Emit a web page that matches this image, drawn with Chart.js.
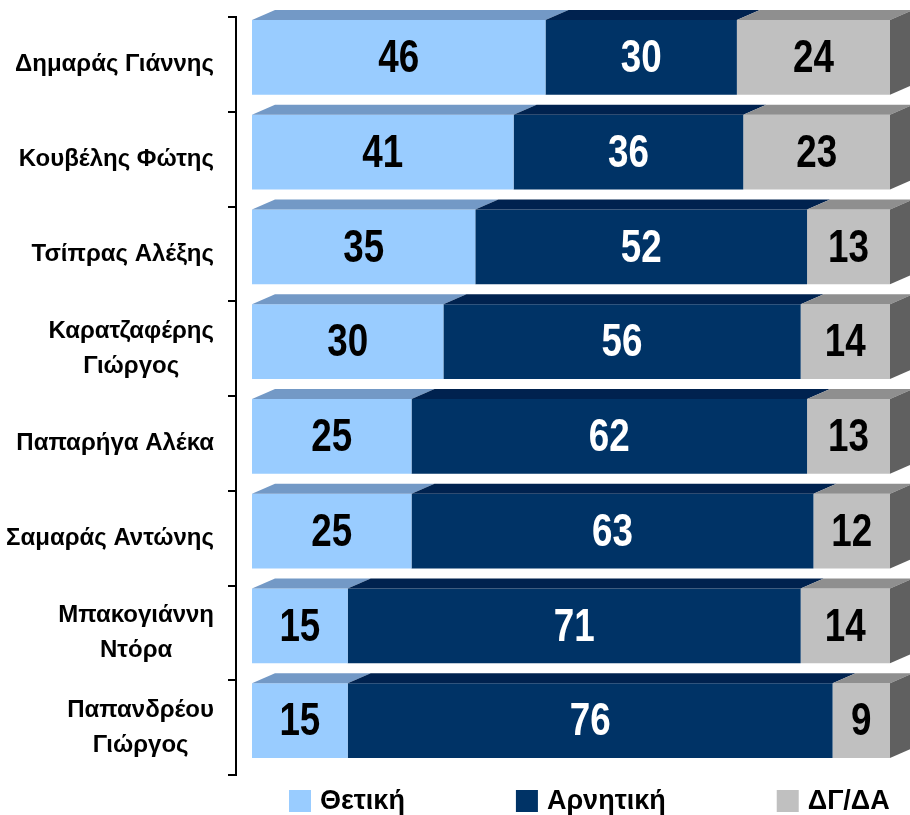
<!DOCTYPE html>
<html>
<head>
<meta charset="utf-8">
<script src="https://cdn.jsdelivr.net/npm/chart.js@4.4.0/dist/chart.umd.min.js"></script>
<style>
  html, body { margin: 0; padding: 0; background: #fff; }
  #wrap { width: 910px; height: 815px; position: relative; }
</style>
</head>
<body>
<div id="wrap"><canvas id="chart"></canvas></div>
<script>
// Poll data (percent)
const politicians = [
  'Δημαράς Γιάννης',
  'Κουβέλης Φώτης',
  'Τσίπρας Αλέξης',
  ['Καρατζαφέρης', 'Γιώργος'],
  'Παπαρήγα Αλέκα',
  'Σαμαράς Αντώνης',
  ['Μπακογιάννη', 'Ντόρα'],
  ['Παπανδρέου', 'Γιώργος']
];
const positive = [46, 41, 35, 30, 25, 25, 15, 15];
const negative = [30, 36, 52, 56, 62, 63, 71, 76];
const noAnswer = [24, 23, 13, 14, 13, 12, 14, 9];
const seriesNames = ['Θετική', 'Αρνητική', 'ΔΓ/ΔΑ'];

const frontColors = ['#99CCFF', '#003366', '#C0C0C0'];
const topColors = ['#7399C6', '#00224F', '#8F8F8F'];
const sideColor = '#606060';
const labelColors = ['#000000', '#FFFFFF', '#000000'];

// 3D depth of the bars
const dx = 23, dy = 10;

const bars3d = {
  id: 'bars3d',
  afterDatasetsDraw(chart) {
    const ctx = chart.ctx;
    const n = chart.data.datasets.length;
    ctx.save();
    chart.data.datasets.forEach((ds, di) => {
      const meta = chart.getDatasetMeta(di);
      meta.data.forEach((bar) => {
        const p = bar.getProps(['x', 'y', 'base', 'height'], true);
        const top = p.y - p.height / 2;
        const bottom = p.y + p.height / 2;
        const x0 = p.base, x1 = p.x;
        ctx.fillStyle = topColors[di];
        ctx.beginPath();
        ctx.moveTo(x0, top);
        ctx.lineTo(x1, top);
        ctx.lineTo(x1 + dx, top - dy);
        ctx.lineTo(x0 + dx, top - dy);
        ctx.closePath();
        ctx.fill();
        if (di === n - 1) {
          ctx.fillStyle = sideColor;
          ctx.beginPath();
          ctx.moveTo(x1, top);
          ctx.lineTo(x1 + dx, top - dy);
          ctx.lineTo(x1 + dx, bottom - dy);
          ctx.lineTo(x1, bottom);
          ctx.closePath();
          ctx.fill();
        }
      });
    });

    // value labels, narrow bold digits
    ctx.font = 'bold 46px "Liberation Sans", Arial, sans-serif';
    ctx.textAlign = 'center';
    ctx.textBaseline = 'middle';
    const squeeze = 0.8;
    chart.data.datasets.forEach((ds, di) => {
      const meta = chart.getDatasetMeta(di);
      meta.data.forEach((bar, i) => {
        const p = bar.getProps(['x', 'y', 'base'], true);
        ctx.fillStyle = labelColors[di];
        ctx.save();
        ctx.translate((p.x + p.base) / 2, p.y + 2);
        ctx.scale(squeeze, 1);
        ctx.fillText(String(ds.data[i]), 0, 0);
        ctx.restore();
      });
    });
    ctx.restore();
  }
};

// left axis line with bracket ticks, and the category names
const axisBracket = {
  id: 'axisBracket',
  afterDraw(chart) {
    const ctx = chart.ctx;
    const ys = chart.scales.y;
    const shift = 7;
    const n = chart.data.labels.length;
    const step = ys.getPixelForValue(1) - ys.getPixelForValue(0);
    const lineX = ys.right - 16;
    const first = ys.getPixelForValue(0) - step / 2 + shift;
    const last = ys.getPixelForValue(n - 1) + step / 2 + shift;
    ctx.save();
    ctx.strokeStyle = '#000';
    ctx.lineWidth = 2;
    ctx.beginPath();
    ctx.moveTo(lineX, first);
    ctx.lineTo(lineX, last);
    for (let i = 0; i <= n; i++) {
      const y = Math.round(first + i * step);
      ctx.moveTo(lineX - 8, y);
      ctx.lineTo(lineX + 1, y);
    }
    ctx.stroke();

    // category labels: block right-aligned, lines centred within the block
    ctx.font = 'bold 24px "Liberation Sans", Arial, sans-serif';
    ctx.fillStyle = '#000';
    ctx.textAlign = 'center';
    ctx.textBaseline = 'middle';
    const rightEdge = ys.right - 38;
    const lineGap = 35;
    chart.data.labels.forEach((lab, i) => {
      const lines = Array.isArray(lab) ? lab : [lab];
      const w = Math.max(...lines.map(l => ctx.measureText(l).width));
      const cx = rightEdge - w / 2;
      const cy = ys.getPixelForValue(i) + 7;
      lines.forEach((l, j) => {
        ctx.fillText(l, cx, cy + (j - (lines.length - 1) / 2) * lineGap);
      });
    });
    ctx.restore();
  }
};

// legend along the bottom
const bottomLegend = {
  id: 'bottomLegend',
  afterDraw(chart) {
    const ctx = chart.ctx;
    const box = 22, gap = 9, spacing = 111;
    const cy = chart.height - 14;
    let x = chart.chartArea.left + 37;
    ctx.save();
    ctx.font = 'bold 27px "Liberation Sans", Arial, sans-serif';
    ctx.textBaseline = 'middle';
    ctx.textAlign = 'left';
    chart.data.datasets.forEach((ds) => {
      ctx.fillStyle = ds.backgroundColor;
      ctx.fillRect(x, cy - box / 2, box, box);
      ctx.fillStyle = '#000';
      ctx.fillText(ds.label, x + box + gap, cy + 1);
      x += box + gap + ctx.measureText(ds.label).width + spacing;
    });
    ctx.restore();
  }
};

const series = [positive, negative, noAnswer];

new Chart(document.getElementById('chart').getContext('2d'), {
  type: 'bar',
  data: {
    labels: politicians,
    datasets: series.map((vals, i) => ({
      label: seriesNames[i],
      data: vals,
      backgroundColor: frontColors[i],
      borderWidth: 0,
      barPercentage: 0.79,
      categoryPercentage: 1
    }))
  },
  options: {
    indexAxis: 'y',
    responsive: true,
    maintainAspectRatio: false,
    animation: false,
    layout: { padding: { top: 10, bottom: 47, right: 20, left: 0 } },
    plugins: {
      legend: { display: false },
      tooltip: { enabled: false }
    },
    scales: {
      x: {
        stacked: true,
        min: 0,
        max: 100,
        display: false
      },
      y: {
        stacked: true,
        grid: { display: false, drawTicks: false },
        border: { display: false },
        afterFit(scale) {
          scale.width = 252;
          scale.paddingTop = 0;
          scale.paddingBottom = 0;
        },
        ticks: { display: false, autoSkip: false }
      }
    }
  },
  plugins: [bars3d, axisBracket, bottomLegend]
});
</script>
</body>
</html>
